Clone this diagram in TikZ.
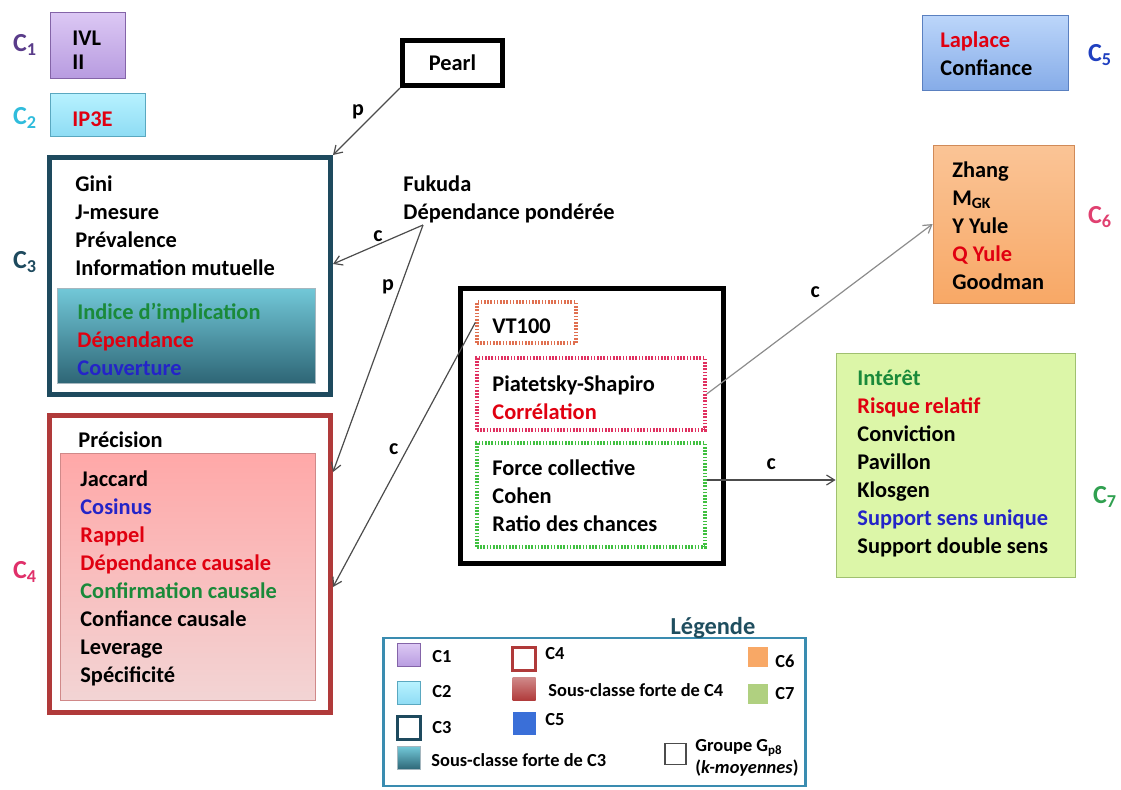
\documentclass[tikz,border=0pt]{standalone}
\usepackage{fontspec}
\setmainfont{Carlito}
\usetikzlibrary{arrows.meta,positioning,calc}
\definecolor{txtred}{HTML}{E00010}
\definecolor{txtgreen}{HTML}{1A8A3A}
\definecolor{txtblue}{HTML}{2424C8}
\definecolor{cunborder}{HTML}{8464A8}
\definecolor{cuntop}{HTML}{DCC8F4}
\definecolor{cunbot}{HTML}{B89CE0}
\definecolor{cunlbl}{HTML}{5A3C8A}
\definecolor{cdeuxborder}{HTML}{5AA8C0}
\definecolor{cdeuxtop}{HTML}{B8F2FF}
\definecolor{cdeuxbot}{HTML}{8EDCF4}
\definecolor{cdeuxlbl}{HTML}{30BCDC}
\definecolor{ctroisborder}{HTML}{1E4A5E}
\definecolor{ctroistop}{HTML}{72C8D8}
\definecolor{ctroisbot}{HTML}{2E6676}
\definecolor{cquatreborder}{HTML}{B03A3A}
\definecolor{cquatretop}{HTML}{FFA8A8}
\definecolor{cquatrebot}{HTML}{F2D4D4}
\definecolor{cquatrelbl}{HTML}{E0306A}
\definecolor{ccinqborder}{HTML}{5A80C0}
\definecolor{ccinqtop}{HTML}{BCD6FA}
\definecolor{ccinqbot}{HTML}{86ACE8}
\definecolor{ccinqlbl}{HTML}{2040C0}
\definecolor{ccinqswatch}{HTML}{3A6FD8}
\definecolor{csixborder}{HTML}{D08A58}
\definecolor{csixtop}{HTML}{FAC496}
\definecolor{csixbot}{HTML}{F8A866}
\definecolor{csixlbl}{HTML}{E04070}
\definecolor{cseptborder}{HTML}{A0C070}
\definecolor{cseptfill}{HTML}{DCF6A8}
\definecolor{cseptlbl}{HTML}{30A050}
\definecolor{cseptswatch}{HTML}{B0D080}
\definecolor{vtborder}{HTML}{E07050}
\definecolor{piaborder}{HTML}{E03060}
\definecolor{forceborder}{HTML}{40C040}
\definecolor{legborder}{HTML}{3A8CB0}
\definecolor{legtitle}{HTML}{1F4E5F}

\tikzset{
  lst/.style={anchor=north west, align=left, inner sep=0pt,
    font=\fontsize{11.2}{14}\selectfont\bfseries},
  clabel/.style={font=\fontsize{13}{13}\selectfont\bfseries},
  link/.style={-{Straight Barb[length=4pt,width=5pt]}, draw=black!70, line width=0.6pt},
  linklbl/.style={font=\fontsize{11}{11}\selectfont\bfseries, inner sep=1pt},
  legtxt/.style={anchor=west, align=left, inner sep=0pt,
    font=\fontsize{9.2}{11}\selectfont\bfseries},
  swatch/.style={minimum width=11.5pt, minimum height=11.5pt, inner sep=0pt},
  dotbox/.style={dash pattern=on 0.8pt off 0.8pt, line width=1.7pt, inner sep=0pt},
}

\begin{document}
\begin{tikzpicture}[x=0.5pt, y=-0.5pt, every node/.style={font=\bfseries}]
\useasboundingbox (0,0) rectangle (1121,789);

% C1 and C2
\node[draw=cunborder, top color=cuntop, bottom color=cunbot,
      minimum width=37.5pt, minimum height=33pt, inner sep=0pt] (c1) at (87.5,45) {};
\node[lst, font=\fontsize{11.2}{12}\selectfont\bfseries] (c1txt) at (72,31) {IVL\\II};
\node[clabel, text=cunlbl] (c1lbl) at (25,45) {C\textsubscript{1}};

\node[draw=cdeuxborder, top color=cdeuxtop, bottom color=cdeuxbot,
      minimum width=47.5pt, minimum height=21.5pt, inner sep=0pt] (c2) at (97.5,114.5) {};
\node[lst, text=txtred] (c2txt) at (72,111) {IP3E};
\node[clabel, text=cdeuxlbl] (c2lbl) at (25,118) {C\textsubscript{2}};

% Pearl
\node[draw, line width=2.5pt, minimum width=50pt, minimum height=22.5pt,
      font=\fontsize{11.2}{14}\selectfont\bfseries] (pearl) at (452.5,63) {Pearl};

% C5
\node[draw=ccinqborder, top color=ccinqtop, bottom color=ccinqbot,
      minimum width=73pt, minimum height=37.5pt, inner sep=0pt] (c5) at (995,52.5) {};
\node[lst] (c5txt) at (940,31) {\textcolor{txtred}{Laplace}\\Confiance};
\node[clabel, text=ccinqlbl] (c5lbl) at (1100,55) {C\textsubscript{5}};

% C3
\node[draw=ctroisborder, line width=2.5pt, fill=white,
      minimum width=140.5pt, minimum height=118.5pt] (c3) at (190,276) {};
\node[lst] (c3txt) at (75,175) {Gini\\J-mesure\\Prévalence\\Information mutuelle};
\node[draw=ctroisborder!40, top color=ctroistop, bottom color=ctroisbot,
      minimum width=129pt, minimum height=47.5pt, inner sep=0pt] (c3s) at (186,335.5) {};
\node[lst] (c3stxt) at (77,303)
  {\textcolor{txtgreen}{Indice d’implication}\\\textcolor{txtred}{Dépendance}\\\textcolor{txtblue}{Couverture}};
\node[clabel, text=ctroisborder] (c3lbl) at (25,262) {C\textsubscript{3}};

% C4
\node[draw=cquatreborder, line width=2.5pt, fill=white,
      minimum width=140.5pt, minimum height=148.5pt] (c4) at (190,564) {};
\node[lst] (c4txt) at (78,431) {Précision};
\node[draw=cquatreborder!60, top color=cquatretop, bottom color=cquatrebot,
      minimum width=127.5pt, minimum height=123.5pt, inner sep=0pt] (c4s) at (187.5,576.5) {};
\node[lst] (c4stxt) at (80,470)
  {Jaccard\\\textcolor{txtblue}{Cosinus}\\\textcolor{txtred}{Rappel}\\\textcolor{txtred}{Dépendance causale}\\
   \textcolor{txtgreen}{Confirmation causale}\\Confiance causale\\Leverage\\Spécificité};
\node[clabel, text=cquatrelbl] (c4lbl) at (25,572) {C\textsubscript{4}};

% Fukuda
\node[lst] (fukuda) at (403,175) {Fukuda\\Dépendance pondérée};
\coordinate (fkfoot) at (423,225);

% group Gp8
\node[draw, line width=2.5pt, minimum width=131.5pt, minimum height=137.5pt] (gp8) at (592,426) {};
\node[draw=vtborder, dotbox, minimum width=49.5pt, minimum height=20.5pt] (vt) at (526.5,322.5) {};
\node[lst] (vttxt) at (492,318) {VT100};
\node[draw=piaborder, dotbox, minimum width=114pt, minimum height=36pt] (pia) at (591,394) {};
\node[lst] (piatxt) at (492,375) {Piatetsky-Shapiro\\\textcolor{txtred}{Corrélation}};
\node[draw=forceborder, dotbox, minimum width=114pt, minimum height=52pt] (force) at (591,495) {};
\node[lst] (forcetxt) at (492,459) {Force collective\\Cohen\\Ratio des chances};

% C6
\node[draw=csixborder, top color=csixtop, bottom color=csixbot,
      minimum width=70.5pt, minimum height=79pt, inner sep=0pt] (c6) at (1003.5,224) {};
\node[lst] (c6txt) at (952,161)
  {Zhang\\M\textsubscript{GK}\\Y Yule\\\textcolor{txtred}{Q Yule}\\Goodman};
\node[clabel, text=csixlbl] (c6lbl) at (1100,217) {C\textsubscript{6}};

% C7
\node[draw=cseptborder, fill=cseptfill, minimum width=119.5pt, minimum height=112pt,
      inner sep=0pt] (c7) at (955.5,465) {};
\node[lst] (c7txt) at (857,370)
  {\textcolor{txtgreen}{Intérêt}\\\textcolor{txtred}{Risque relatif}\\Conviction\\Pavillon\\Klosgen\\
   \textcolor{txtblue}{Support sens unique}\\Support double sens};
\node[clabel, text=cseptlbl] (c7lbl) at (1105,497) {C\textsubscript{7}};

% Arrows
\draw[link] (pearl.south west) -- (c3.north east)
  node[linklbl, midway, above left] {p};
\draw[link] (fkfoot) -- ([yshift=6pt]c3.east)
  node[linklbl, midway, above] {c};
\draw[link] (fkfoot) -- ([yshift=46pt]c4.east)
  node[linklbl, pos=0.25, left=2pt] {p};
\draw[link] (vt.west) -- ([yshift=-11.5pt]c4.east)
  node[linklbl, pos=0.48, left=3pt] {c};
\draw[link, draw=black!45] (pia.east) -- (c6.west)
  node[linklbl, pos=0.48, above=6pt] {c};
\draw[link] ([yshift=7.5pt]force.east) -- ([yshift=-7.5pt]c7.west)
  node[linklbl, midway, above=4pt] {c};

% Legend
\node[draw=legborder, line width=1.2pt, minimum width=211pt, minimum height=74pt] (legend) at (594.5,712) {};
\node[font=\fontsize{12.2}{13}\selectfont\bfseries, text=legtitle] (legtitle) at (713,628) {Légende};

\node[swatch, draw=cunborder, top color=cuntop, bottom color=cunbot] (s1) at (408.5,655) {};
\node[legtxt] (l1) at (432,657) {C1};
\node[swatch, draw=cdeuxborder, top color=cdeuxtop, bottom color=cdeuxbot] (s2) at (408.5,693) {};
\node[legtxt] (l2) at (432,692) {C2};
\node[swatch, draw=ctroisborder, line width=1.5pt, fill=white] (s3) at (408.5,728) {};
\node[legtxt] (l3) at (432,728) {C3};
\node[swatch, draw=ctroisborder!40, top color=ctroistop, bottom color=ctroisbot] (s3s) at (408.5,758) {};
\node[legtxt] (l3s) at (431,760) {Sous-classe forte de C3};

\node[swatch, draw=cquatreborder, line width=1.5pt, fill=white] (s4) at (524,659) {};
\node[legtxt] (l4) at (545,654) {C4};
\node[swatch, top color=cquatreborder!60, bottom color=cquatreborder] (s4s) at (524,689) {};
\node[legtxt] (l4s) at (548,690) {Sous-classe forte de C4};
\node[swatch, fill=ccinqswatch] (s5) at (524,723) {};
\node[legtxt] (l5) at (545,720) {C5};

\node[swatch, minimum width=10pt, minimum height=10pt, fill=csixbot] (s6) at (758,657) {};
\node[legtxt] (l6) at (775,661) {C6};
\node[swatch, minimum width=10pt, minimum height=10pt, fill=cseptswatch] (s7) at (758,694) {};
\node[legtxt] (l7) at (775,694) {C7};

\node[swatch, minimum width=10.5pt, minimum height=10.5pt, draw=black!70, line width=0.6pt] (sg) at (675.5,754) {};
\node[legtxt] (lg) at (695,758) {Groupe G\textsubscript{p8}\\(\textit{k-moyennes})};

\end{tikzpicture}
\end{document}
